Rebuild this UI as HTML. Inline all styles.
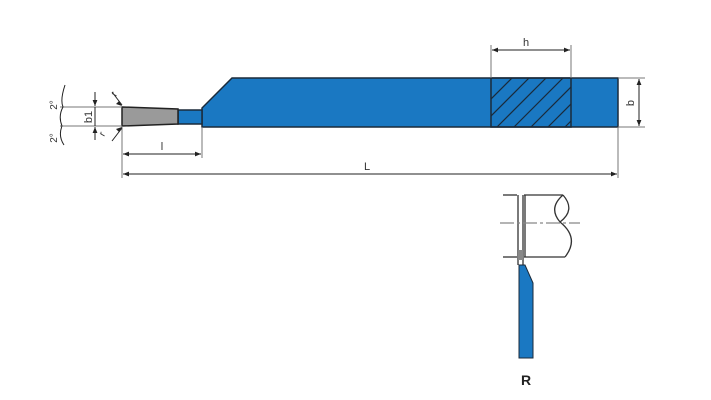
<!DOCTYPE html>
<html><head><meta charset="utf-8"><style>html,body{margin:0;padding:0;background:#fff}svg{display:block}</style></head>
<body>
<svg width="711" height="400" viewBox="0 0 711 400" xmlns="http://www.w3.org/2000/svg" font-family="Liberation Sans, sans-serif">
<defs>
<marker id="a" viewBox="0 0 10 10" refX="10" refY="5" markerWidth="8" markerHeight="6" orient="auto-start-reverse"><path d="M0,1 L10,5 L0,9 z" fill="#222"/></marker>
<clipPath id="hc"><rect x="491" y="78" width="80" height="49"/></clipPath>
</defs>
<!-- main body -->
<path d="M232,78 L618,78 L618,127 L202,127 L202,108 Z" fill="#1a78c2" stroke="#1b2a3a" stroke-width="1.5"/>
<rect x="178" y="110" width="24" height="14" fill="#1a78c2" stroke="#1b2a3a" stroke-width="1.5"/>
<path d="M122,107 L178,109 L178,124 L122,126 Z" fill="#9a9a9a" stroke="#222" stroke-width="1.5"/>
<!-- hatch -->
<rect x="491" y="78" width="80" height="49" fill="none" stroke="#1b2a3a" stroke-width="1.5"/>
<g clip-path="url(#hc)" stroke="#1b2a3a" stroke-width="1.2">
<line x1="480" y1="127" x2="530" y2="77"/><line x1="497" y1="127" x2="547" y2="77"/><line x1="514" y1="127" x2="564" y2="77"/><line x1="531" y1="127" x2="581" y2="77"/><line x1="548" y1="127" x2="598" y2="77"/><line x1="565" y1="127" x2="615" y2="77"/><line x1="463" y1="127" x2="513" y2="77"/>
</g>
<!-- dims -->
<g stroke="#777" stroke-width="1" fill="none">
<line x1="491" y1="45" x2="491" y2="78"/><line x1="571" y1="45" x2="571" y2="78"/>
<line x1="618" y1="78" x2="645" y2="78"/><line x1="618" y1="127" x2="645" y2="127"/>
<line x1="618" y1="127" x2="618" y2="178"/><line x1="122" y1="126" x2="122" y2="178"/>
<line x1="202" y1="127" x2="202" y2="158"/>
<line x1="60" y1="107" x2="122" y2="107"/><line x1="60" y1="126" x2="122" y2="126"/>
</g>
<g stroke="#222" stroke-width="1" fill="none">
<line x1="492" y1="50" x2="570" y2="50" marker-start="url(#a)" marker-end="url(#a)"/>
<line x1="639" y1="79" x2="639" y2="126" marker-start="url(#a)" marker-end="url(#a)"/>
<line x1="123" y1="174" x2="617" y2="174" marker-start="url(#a)" marker-end="url(#a)"/>
<line x1="123" y1="154" x2="201" y2="154" marker-start="url(#a)" marker-end="url(#a)"/>
<line x1="95" y1="92" x2="95" y2="106" marker-end="url(#a)"/>
<line x1="95" y1="140" x2="95" y2="127" marker-end="url(#a)"/>
<line x1="95" y1="107" x2="95" y2="126"/>
<path d="M65,85 Q60,100 63,107 Q58,116 62,126 Q58,136 64,145"/>
<line x1="112" y1="92" x2="122" y2="105"/><line x1="112" y1="141" x2="122" y2="128"/>
</g>
<path d="M119,101 L122,106 L116,104Z M119,132 L122,127 L116,129Z" fill="#222"/>
<g fill="#333" font-size="11">
<text x="526" y="46" text-anchor="middle">h</text>
<text x="367" y="170" text-anchor="middle">L</text>
<text x="162" y="150" text-anchor="middle">l</text>
<text transform="translate(634,103) rotate(-90)" text-anchor="middle">b</text>
<text transform="translate(92,117) rotate(-90)" text-anchor="middle">b1</text>
<text transform="translate(57,105) rotate(-90)" text-anchor="middle" font-size="10">2°</text>
<text transform="translate(57,138) rotate(-90)" text-anchor="middle" font-size="10">2°</text>
<text transform="translate(116,97) rotate(-60)" font-size="10">r</text>
<text transform="translate(104,137) rotate(-60)" font-size="10">r</text>
</g>
<!-- side view -->
<g stroke="#333" stroke-width="1.3" fill="none">
<line x1="503" y1="195" x2="517" y2="195"/><line x1="524" y1="195" x2="563" y2="195"/>
<line x1="503" y1="257" x2="517" y2="257"/><line x1="524" y1="257" x2="565" y2="257"/>
<line x1="518" y1="195" x2="518" y2="265"/><line x1="523" y1="195" x2="523" y2="265"/>
<line x1="525" y1="195" x2="525" y2="257"/>
<path d="M563,195 Q548,208 560,222 Q576,210 563,195 M560,222 Q580,238 565,257"/>
</g>
<line x1="500" y1="223" x2="580" y2="223" stroke="#888" stroke-width="1.2" stroke-dasharray="14,3,3,3"/>
<rect x="518" y="250" width="5" height="10" fill="#888"/>
<path d="M519,265 L525,265 L533,283 L533,358 L519,358 Z" fill="#1a78c2" stroke="#1b2a3a" stroke-width="1"/>
<text x="526" y="385" text-anchor="middle" font-size="14" font-weight="bold" fill="#222">R</text>
</svg>
</body></html>
